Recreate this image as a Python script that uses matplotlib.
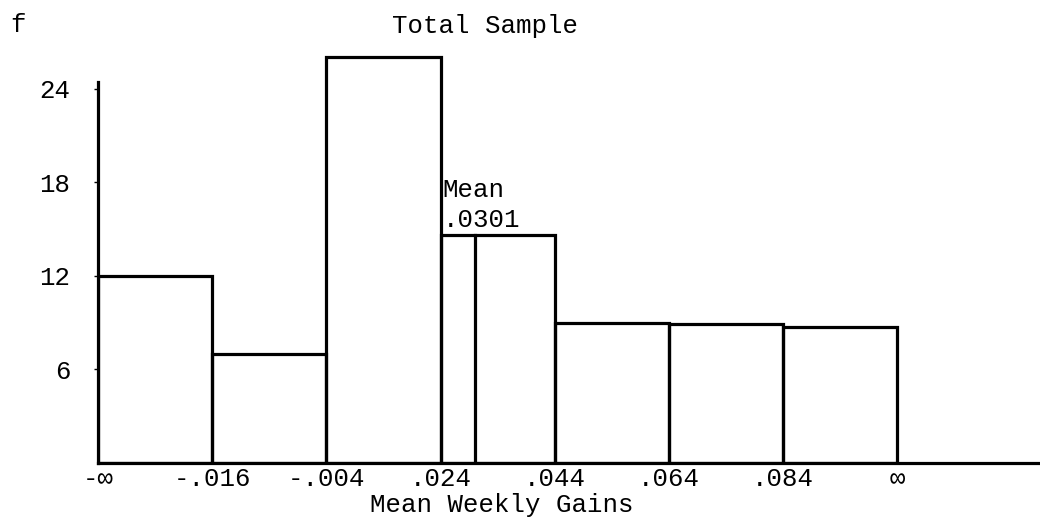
# 1.import necessary libraries
import numpy as np # for numerical operations
import matplotlib.pyplot as plt # for plotting

# 2.define the data
edge_labels = ['-\u221e', '-.016', '-.004', '.024', '.044', '.064', '.084', '\u221e'] # class boundaries
edge_values = [-np.inf, -0.016, -0.004, 0.024, 0.044, 0.064, 0.084, np.inf] # numeric boundaries
freq = [12, 7, 26, 14.6, 9, 8.9, 8.7] # frequency of each class
mean_value = 0.0301 # mean weekly gain
y_ticks = [6, 12, 18, 24] # ticks on the f axis

# 3.set up the figure
plt.rcParams['font.family'] = ['Liberation Mono', 'DejaVu Sans Mono']
plt.rcParams['font.size'] = 18.5
fig = plt.figure(figsize=(10.4, 5.2), dpi=100)
ax = fig.add_axes([98/1040, 57/520, 942/1040, 433/520])
ax.set_xlim(0, 8.25)
ax.set_ylim(0, 27.75)

# 4.draw the histogram bars (classes drawn with equal width)
x = np.arange(len(freq))
ax.bar(x, freq, width=1, align='edge', fill=False, edgecolor='black', linewidth=2.3)

# mean line inside the class .024 - .044
k = 3
mean_pos = k + (mean_value - edge_values[k]) / (edge_values[k+1] - edge_values[k])
ax.plot([mean_pos, mean_pos], [0, freq[k]], color='black', linewidth=2.3)
ax.text(k + 0.02, 17.05, 'Mean', ha='left', va='baseline')
ax.text(k + 0.02, 15.1, '.0301', ha='left', va='baseline')

# 5.axes styling
for s in ['top', 'right']:
    ax.spines[s].set_visible(False)
ax.spines['left'].set_bounds(0, 24.4)
ax.spines['left'].set_linewidth(2.3)
ax.spines['bottom'].set_linewidth(2.3)
ax.set_xticks(np.arange(len(edge_labels)))
ax.set_xticklabels(edge_labels)
ax.tick_params(axis='x', length=0, pad=3)
ax.set_yticks(y_ticks)
ax.set_yticklabels([str(t) for t in y_ticks])
ax.tick_params(axis='y', length=3, width=1, pad=17)

# 6.titles and labels
fig.text(10/1040, 1 - 32/520, 'f', ha='left', va='baseline')
fig.text(485/1040, 1 - 33/520, 'Total Sample', ha='center', va='baseline')
fig.text(502/1040, 1 - 512/520, 'Mean Weekly Gains', ha='center', va='baseline')

# 7.save the plot
plt.savefig('out.png', dpi=100)
